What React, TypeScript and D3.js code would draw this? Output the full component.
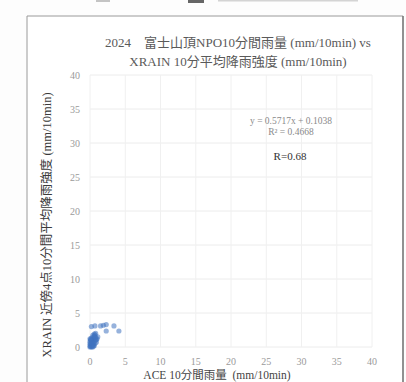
import React from "react";
import * as d3 from "d3";

// ACE 10-minute rainfall (mm/10min) at the summit station
const aceRain = [
  0, 0, 0, 0.1, 0.1, 0.2, 0, 0.3, 0.2, 0.1, 0.4, 0.5, 0.3, 0.6, 0.2, 0.4, 0.7, 0.5, 0.8, 0.3,
  0.6, 0.9, 0.7, 0.4, 0.8, 1.0, 0.5, 0.6, 0.9, 0.7, 1.1, 0.8, 0.3, 0.2, 0.1, 0.0, 0.4, 0.6,
  0.2, 0.7, 1.5, 1.9, 2.3, 2.3, 3.4, 4.1,
];
// XRAIN 10-minute mean rainfall intensity near the summit (mm/10min)
const xrainRain = [
  0, 0.2, 0.5, 0.1, 0.4, 0.0, 0.8, 0.3, 0.7, 1.0, 0.6, 0.2, 1.1, 0.9, 1.3, 1.4, 0.5, 1.2, 1.0, 0.9,
  1.6, 0.7, 1.8, 1.7, 1.4, 1.2, 0.4, 1.9, 1.1, 1.5, 1.5, 2.0, 0.1, 0.6, 1.1, 1.2, 0.0, 0.2,
  3.0, 3.1, 3.1, 3.2, 3.3, 2.35, 3.1, 2.35,
];

const xTicks = [0, 5, 10, 15, 20, 25, 30, 35, 40];
const yTicks = [0, 5, 10, 15, 20, 25, 30, 35, 40];

const titleLines = [
  "2024\u3000富士山頂NPO10分間雨量 (mm/10min) vs",
  "XRAIN 10分平均降雨強度 (mm/10min)",
];
const xTitle = "ACE 10分間雨量\u00a0 (mm/10min)";
const yTitle = "XRAIN 近傍4点10分間平均降雨強度 (mm/10min)";
const fitLines = ["y = 0.5717x + 0.1038", "R² = 0.4668"];
const corrLabel = "R=0.68";

const W = 406;
const H = 382;
const FONT = "'Liberation Serif', 'Times New Roman', 'Noto Sans CJK JP', serif";

export default function App() {
  const x = d3.scaleLinear().domain([0, 40]).range([90, 372]);
  const y = d3.scaleLinear().domain([0, 40]).range([347, 75]);
  const points = d3.zip(aceRain, xrainRain);

  return (
    <svg
      width={W}
      height={H}
      viewBox={`0 0 ${W} ${H}`}
      style={{ position: "fixed", left: 0, top: 0, background: "#fff", fontFamily: FONT }}
    >
      <rect x={0} y={0} width={W} height={H} fill="#fdfdfd" />
      {/* clipped caption remnants above the chart frame */}
      <rect x={96} y={0} width={14} height={2} fill="#c4c4c4" />
      <rect x={188} y={0} width={16} height={3} fill="#666" />
      <rect x={218} y={0} width={140} height={1.5} fill="#d4d4d4" />

      {/* chart frame */}
      <path d={`M27,${H} V16 H403 V${H}`} fill="#fff" stroke="#9a9a9a" strokeWidth={1} />
      <line x1={403} y1={16} x2={403} y2={H} stroke="#6a6a6a" strokeWidth={1.2} />

      {/* title */}
      {titleLines.map((t, i) => (
        <text key={i} x={238} y={47 + i * 19} textAnchor="middle" fontSize={13} fill="#5a5a5a">
          {t}
        </text>
      ))}

      {/* grid */}
      {yTicks.map((t) => (
        <line key={"gy" + t} x1={x(0)} x2={x(40)} y1={y(t)} y2={y(t)} stroke="#ececec" strokeWidth={1} />
      ))}
      {xTicks.map((t) => (
        <line key={"gx" + t} x1={x(t)} x2={x(t)} y1={y(0)} y2={y(40)} stroke="#f0f0f0" strokeWidth={1} />
      ))}

      {/* tick labels */}
      {yTicks.map((t) => (
        <text key={"ty" + t} x={80} y={y(t) + 3.5} textAnchor="end" fontSize={10} fill="#9a9a9a">
          {t}
        </text>
      ))}
      {xTicks.map((t) => (
        <text key={"tx" + t} x={x(t)} y={365} textAnchor="middle" fontSize={10} fill="#9a9a9a">
          {t}
        </text>
      ))}

      {/* axis titles */}
      <text x={217} y={379} textAnchor="middle" fontSize={11.5} fill="#444">
        {xTitle}
      </text>
      <text
        transform={`translate(51,${225}) rotate(-90)`}
        textAnchor="middle"
        fontSize={12.5}
        fill="#3a3a3a"
      >
        {yTitle}
      </text>

      {/* scatter */}
      <g>
        {points.map(([a, b], i) => (
          <circle key={i} cx={x(a)} cy={y(b)} r={2.6} fill="#3f72c0" fillOpacity={0.55} />
        ))}
      </g>

      {/* regression annotation */}
      {fitLines.map((t, i) => (
        <text key={i} x={291} y={124 + i * 11} textAnchor="middle" fontSize={9.5} fill="#8a8a8a">
          {t}
        </text>
      ))}
      <text x={290} y={160} textAnchor="middle" fontSize={11} fill="#333">
        {corrLabel}
      </text>
    </svg>
  );
}
